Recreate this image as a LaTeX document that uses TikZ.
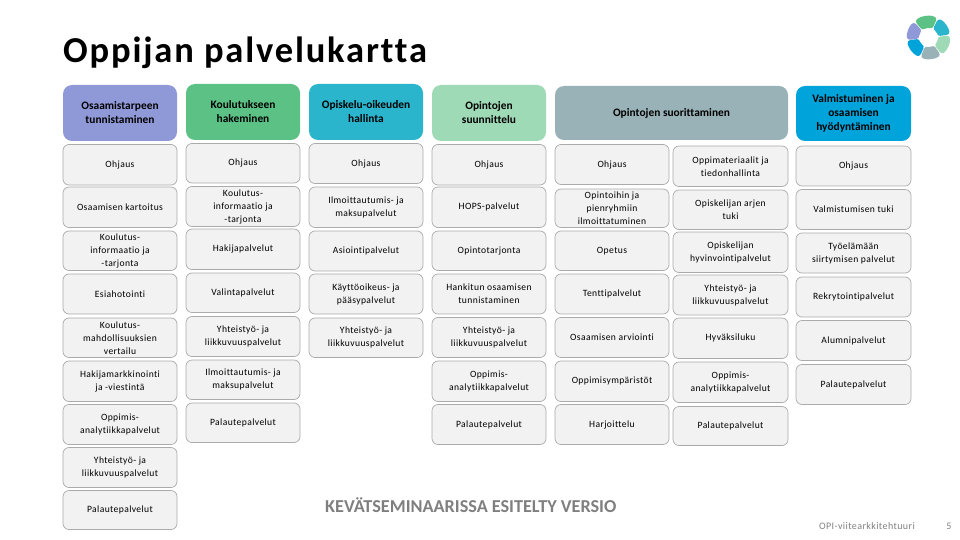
\documentclass[tikz,border=0pt]{standalone}
\usepackage{fontspec}
\setmainfont[LetterSpace=4,Ligatures=NoCommon]{Carlito}
\newfontfamily\plainfont[Ligatures=NoCommon]{Carlito}
\newfontfamily\titlefont[LetterSpace=5,Ligatures=NoCommon]{Carlito}
\definecolor{headA}{HTML}{9099D7}
\definecolor{headB}{HTML}{5CC184}
\definecolor{headC}{HTML}{2BB5CC}
\definecolor{headD}{HTML}{9FDAB6}
\definecolor{headE}{HTML}{98B2B7}
\definecolor{headF}{HTML}{00A3DA}
\definecolor{cellfill}{HTML}{F2F2F2}
\definecolor{cellline}{HTML}{ABABAB}
\definecolor{footgray}{HTML}{7F7F7F}
\begin{document}
\begin{tikzpicture}[x=1pt, y=-1pt, line join=round, line cap=round,
	cellbox/.style={draw=cellline, line width=0.7pt, fill=cellfill, rounded corners=6pt, align=center, inner sep=0pt, outer sep=0pt, font=\fontsize{9.6}{13}\selectfont},
	headbox/.style={rounded corners=9pt, align=center, inner sep=0pt, outer sep=0pt, font=\plainfont\bfseries\fontsize{11.4}{14}\selectfont}]
	
	\useasboundingbox (0,0) rectangle (960,540);
	
	\node[anchor=base west, inner sep=0pt, font=\titlefont\bfseries\fontsize{36.5}{38}\selectfont] (title) at (63,63) {Oppijan palvelukartta};
	
	% otsikot
	\node[headbox, fill=headA, minimum width=114pt, minimum height=56pt] (headA) at (120,113) {Osaamistarpeen\\tunnistaminen};
	\node[headbox, fill=headB, minimum width=114pt, minimum height=56pt] (headB) at (243,112) {Koulutukseen\\hakeminen};
	\node[headbox, fill=headC, minimum width=114pt, minimum height=56pt] (headC) at (366,112) {Opiskelu-oikeuden\\hallinta};
	\node[headbox, fill=headD, minimum width=114pt, minimum height=56pt] (headD) at (489,113) {Opintojen\\suunnittelu};
	\node[headbox, fill=headE, minimum width=233pt, minimum height=54pt] (headE) at (671.5,113) {Opintojen suorittaminen};
	\node[headbox, fill=headF, minimum width=115pt, minimum height=55pt] (headF) at (853.5,113.5) {Valmistuminen ja\\osaamisen\\hyödyntäminen};
	
	% sarakkeet
	\foreach \ya/\yb/\txt [count=\r] in {
		144.5/185/Ohjaus,
		187/227.5/Osaamisen kartoitus,
		231/270.5/{Koulutus-\\informaatio ja\\-tarjonta},
		274/314/Esiahotointi,
		318/357.5/{Koulutus-\\mahdollisuuksien\\vertailu},
		361/401.5/{Hakijamarkkinointi\\ja -viestintä},
		404.5/444.5/{Oppimis-\\analytiikkapalvelut},
		447.5/487.5/{Yhteistyö- ja\\liikkuvuuspalvelut},
		490.5/529.5/Palautepalvelut}
		\node[cellbox, minimum width=114pt, minimum height={\yb-\ya}] (cellA\r) at (120,{(\ya+\yb)/2}) {\txt};
	
	\foreach \ya/\yb/\txt [count=\r] in {
		143.5/183/Ohjaus,
		186.5/226.5/{Koulutus-\\informaatio ja\\-tarjonta},
		229/269.5/Hakijapalvelut,
		273/312.5/Valintapalvelut,
		316.5/356.5/{Yhteistyö- ja\\liikkuvuuspalvelut},
		360/399.5/{Ilmoittautumis- ja\\maksupalvelut},
		403/442.5/Palautepalvelut}
		\node[cellbox, minimum width=114pt, minimum height={\yb-\ya}] (cellB\r) at (243,{(\ya+\yb)/2}) {\txt};
	
	\foreach \ya/\yb/\txt [count=\r] in {
		143.5/183.5/Ohjaus,
		187/227.5/{Ilmoittautumis- ja\\maksupalvelut},
		231/271/Asiointipalvelut,
		274/314/{Käyttöoikeus- ja\\pääsypalvelut},
		318/357.5/{Yhteistyö- ja\\liikkuvuuspalvelut}}
		\node[cellbox, minimum width=114pt, minimum height={\yb-\ya}] (cellC\r) at (366,{(\ya+\yb)/2}) {\txt};
	
	\foreach \ya/\yb/\txt [count=\r] in {
		144.5/185/Ohjaus,
		187/227.5/HOPS-palvelut,
		231/270.5/Opintotarjonta,
		274/314/{Hankitun osaamisen\\tunnistaminen},
		317.5/357.5/{Yhteistyö- ja\\liikkuvuuspalvelut},
		361/401.5/{Oppimis-\\analytiikkapalvelut},
		404.5/444.5/Palautepalvelut}
		\node[cellbox, minimum width=114pt, minimum height={\yb-\ya}] (cellD\r) at (489,{(\ya+\yb)/2}) {\txt};
	
	\foreach \ya/\yb/\txt [count=\r] in {
		144.5/184.5/Ohjaus,
		189/227.5/{Opintoihin ja\\pienryhmiin\\ilmoittatuminen},
		231/270.5/Opetus,
		274/314/Tenttipalvelut,
		317.5/357.5/Osaamisen arviointi,
		361/401.5/Oppimisympäristöt,
		404.5/444.5/Harjoittelu}
		\node[cellbox, minimum width=114pt, minimum height={\yb-\ya}] (cellE\r) at (612,{(\ya+\yb)/2}) {\txt};
	
	\foreach \ya/\yb/\txt [count=\r] in {
		146/186.5/{Oppimateriaalit ja\\tiedonhallinta},
		190/229.5/{Opiskelijan arjen\\tuki},
		232/272.5/{Opiskelijan\\hyvinvointipalvelut},
		275/315/{Yhteistyö- ja\\liikkuvuuspalvelut},
		318/358.5/Hyväksiluku,
		362/402.5/{Oppimis-\\analytiikkapalvelut},
		406.5/445.5/Palautepalvelut}
		\node[cellbox, minimum width=115pt, minimum height={\yb-\ya}] (cellF\r) at (730.5,{(\ya+\yb)/2}) {\txt};
	
	\foreach \ya/\yb/\txt [count=\r] in {
		146/186/Ohjaus,
		189.5/229.5/Valmistumisen tuki,
		233/273/{Työelämään\\siirtymisen palvelut},
		277/317/Rekrytointipalvelut,
		320.5/360.5/Alumnipalvelut,
		364.5/404.5/Palautepalvelut}
		\node[cellbox, minimum width=115pt, minimum height={\yb-\ya}] (cellG\r) at (853.5,{(\ya+\yb)/2}) {\txt};
	
	\node[anchor=west, text=footgray, font=\plainfont\bfseries\fontsize{18.2}{20}\selectfont, inner sep=0pt] (versio) at (325,505) {KEVÄTSEMINAARISSA ESITELTY VERSIO};
	\node[anchor=east, text=footgray, font=\fontsize{10}{11}\selectfont, inner sep=0pt] (footer) at (915,526) {OPI-viitearkkitehtuuri};
	\node[text=footgray, font=\fontsize{10}{11}\selectfont, inner sep=0pt] (pagenr) at (949,526) {5};
	
	% logo
	\begin{scope}[shift={(928.5,37.5)}, x=1pt, y=1pt]
		\foreach \aa/\ab/\rr/\col in {
			66/130/21.5/headB,
			8/63/21.5/headC,
			-52/5/21.5/headD,
			-112/-55/21.5/headE,
			-172/-115/21.5/headF,
			133/187/21.5/headA}
			\fill[\col, rounded corners=3pt] (\aa:\rr) arc (\aa:\ab:\rr) -- (\ab:9) arc (\ab:\aa:9) -- cycle;
	\end{scope}
\end{tikzpicture}
\end{document}
